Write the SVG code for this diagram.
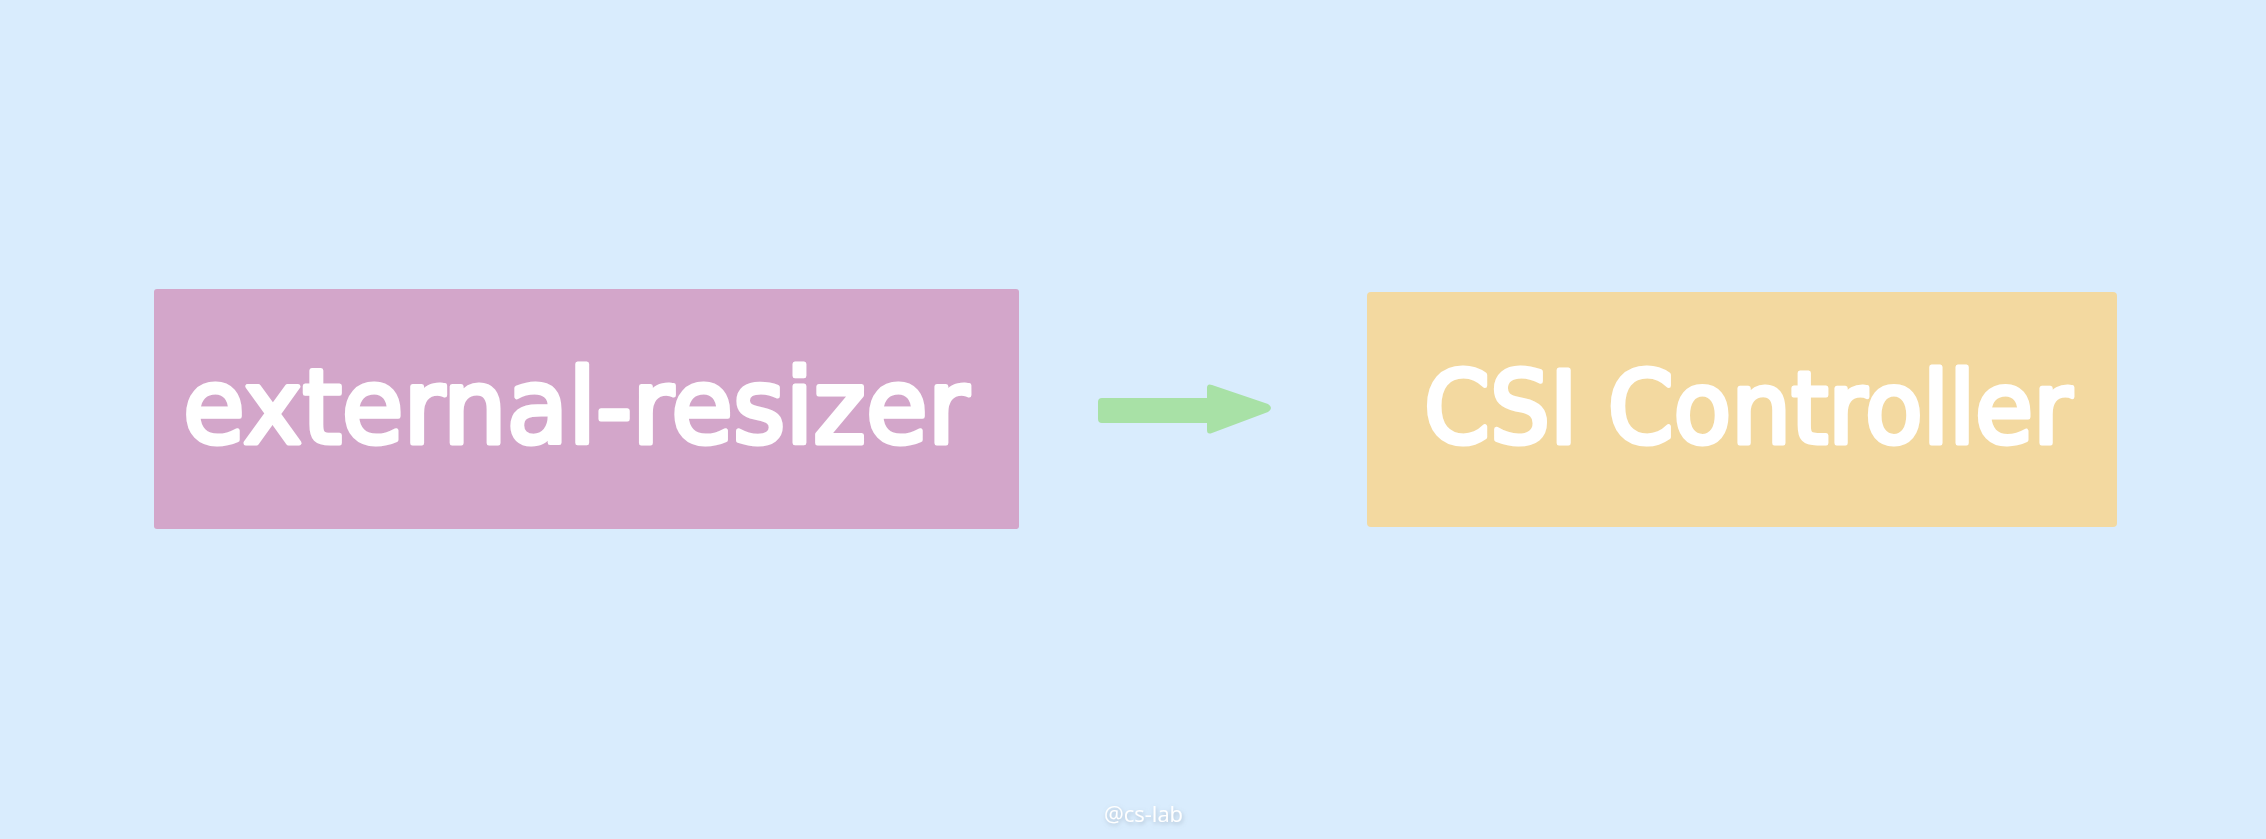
<svg xmlns="http://www.w3.org/2000/svg" width="2266" height="839" viewBox="0 0 2266 839">
  <defs>
    <style>
      .lbl { font-family: "DejaVu Sans", "Liberation Sans", sans-serif; font-weight: normal; fill: #ffffff; stroke: #ffffff; stroke-width: 5; stroke-linejoin: round; }
      .wm { font-family: "Open Sans", "DejaVu Sans", sans-serif; fill: #ffffff; font-size: 22px; }
    </style>
    <filter id="sh" x="-20%" y="-50%" width="140%" height="200%">
      <feDropShadow dx="1" dy="2" stdDeviation="2" flood-color="#7f8fa0" flood-opacity="0.5"/>
    </filter>
  </defs>
  <rect x="0" y="0" width="2266" height="839" fill="#d9ecfd"/>
  <g id="external-resizer">
    <rect x="154" y="289" width="865" height="240" rx="3" fill="#d3a6ca"/>
    <text class="lbl" x="183" y="443" font-size="104" textLength="786" lengthAdjust="spacingAndGlyphs">external-resizer</text>
  </g>
  <g id="csi-controller">
    <rect x="1367" y="292" width="750" height="235" rx="4" fill="#f3d9a0"/>
    <text class="lbl" x="1424" y="443" font-size="100" textLength="648" lengthAdjust="spacingAndGlyphs">CSI Controller</text>
  </g>
  <g id="connectors">
    <path d="M1102,398 L1207,398 L1207,388 Q1207,383 1212,385 L1268,404 Q1274,408 1268,412 L1212,433 Q1207,435 1207,430 L1207,423 L1102,423 Q1098,423 1098,419 L1098,402 Q1098,398 1102,398 Z" fill="#a8e1a6"/>
  </g>
  <text class="wm" x="1104" y="822" filter="url(#sh)">@cs-lab</text>
</svg>
